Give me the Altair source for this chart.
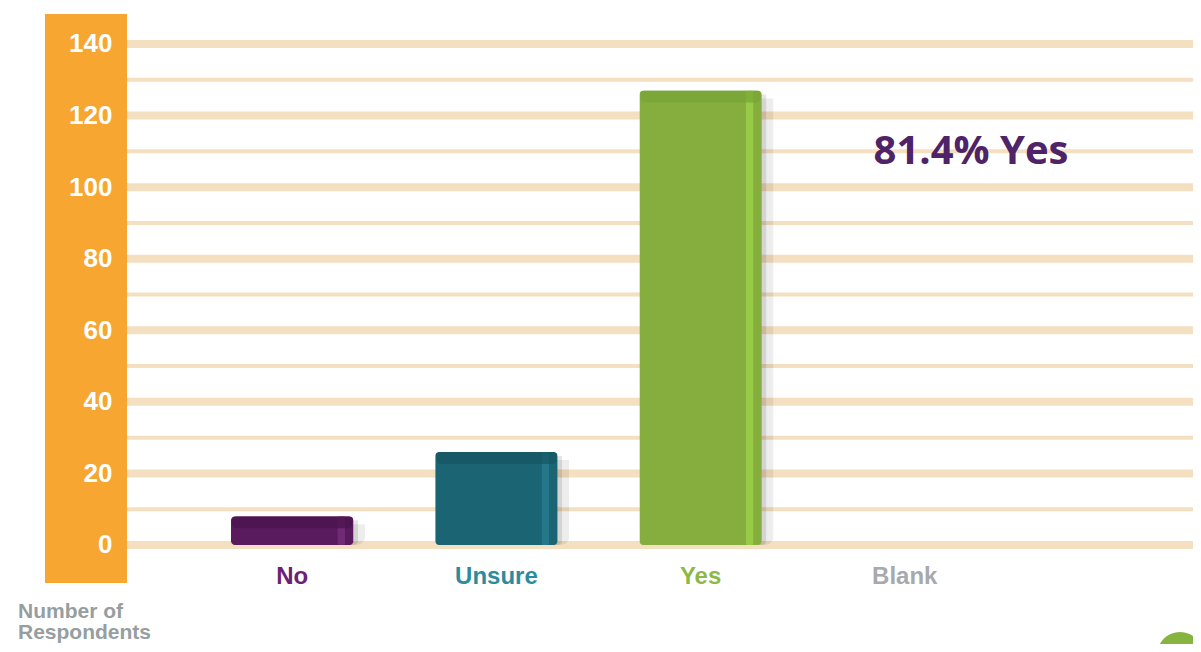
import altair as alt
import pandas as pd

# ---- data ----
categories = ["No", "Unsure", "Yes", "Blank"]
counts = [8, 26, 127, 0]
bar_colors = ["#5A1B5E", "#1B6474", "#86AE3F", "#A7A9AC"]
side_colors = ["#6F2B74", "#24788A", "#97CB45", "#A7A9AC"]
top_colors = ["#47134C", "#165461", "#76A236", "#A7A9AC"]
label_colors = ["#6B2272", "#2E8B9E", "#8DB846", "#A7A9AC"]
major_ticks = [0, 20, 40, 60, 80, 100, 120, 140]
minor_ticks = [10, 30, 50, 70, 90, 110, 130]
annotation = ["81.4% Yes"]
axis_title = ["Number of\nRespondents"]

df = pd.DataFrame({"category": categories, "count": counts,
                   "color": bar_colors, "side": side_colors,
                   "top": top_colors, "label_color": label_colors})
bars_df = df[df["count"] > 0]
major_df = pd.DataFrame({"v": major_ticks})
minor_df = pd.DataFrame({"v": minor_ticks})
ann_df = pd.DataFrame({"t": annotation})
title_df = pd.DataFrame({"t": axis_title})

W, H = 1148, 569
yscale = alt.Scale(domain=[-10.62, 148.38], nice=False, zero=False)
xscale = alt.Scale(domain=categories, range=[186, 921], paddingInner=0.4, paddingOuter=0)
GRID = "#F4DFC0"

y_axis = alt.Axis(values=major_ticks, title=None, domain=False, ticks=False, grid=False,
                  labelColor="white", labelFontSize=26, labelFontWeight="bold",
                  labelFont="Liberation Sans", labelAlign="right", labelBaseline="middle",
                  offset=-69, labelPadding=2, zindex=2)

x_enc = alt.X("category:N", scale=xscale, axis=None, sort=categories)

def yq(field):
    return alt.Y(field, scale=yscale, axis=y_axis)

major = alt.Chart(major_df).mark_rule(color=GRID, strokeWidth=8).encode(
    y=yq("v:Q"), x=alt.value(82), x2=alt.value(W))
minor = alt.Chart(minor_df).mark_rule(color=GRID, strokeWidth=4).encode(
    y=yq("v:Q"), x=alt.value(82), x2=alt.value(W))

band = alt.Chart(ann_df).mark_rect(color="#F7A631").encode(
    x=alt.value(0), x2=alt.value(82), y=alt.value(0), y2=alt.value(H))

shadow1 = alt.Chart(bars_df).mark_bar(color="#000000", opacity=0.07, cornerRadius=9,
                                      xOffset=7, yOffset=8, size=132).encode(
    x=x_enc, y=yq("count:Q"))
shadow2 = alt.Chart(bars_df).mark_bar(color="#000000", opacity=0.10, cornerRadius=5,
                                      xOffset=4, yOffset=4, size=124).encode(
    x=x_enc, y=yq("count:Q"))

bars = alt.Chart(bars_df).mark_bar(cornerRadius=4).encode(
    x=x_enc, y=yq("count:Q"), color=alt.Color("color:N", scale=None))
side = alt.Chart(bars_df).mark_bar(size=8, xOffset=49, cornerRadius=2).encode(
    x=x_enc, y=yq("count:Q"), color=alt.Color("side:N", scale=None))
top = alt.Chart(bars_df).mark_tick(thickness=12, size=120, yOffset=6, cornerRadius=4).encode(
    x=x_enc, y=yq("count:Q"), color=alt.Color("top:N", scale=None))

labels = alt.Chart(df).mark_text(fontSize=24, fontWeight="bold", font="Liberation Sans",
                                 baseline="middle", align="center").encode(
    x=x_enc, y=alt.value(563), text="category:N",
    color=alt.Color("label_color:N", scale=None))

ann = alt.Chart(ann_df).mark_text(fontSize=40, fontWeight="bold", font="Open Sans",
                                  color="#4F2367", align="center", baseline="middle").encode(
    x=alt.value(926), y=alt.value(138), text="t:N")

title = alt.Chart(title_df).mark_text(fontSize=21, fontWeight="bold", font="Liberation Sans",
                                      color="#969EA1", align="left", baseline="alphabetic",
                                      lineBreak="\n", lineHeight=21).encode(
    x=alt.value(-27), y=alt.value(604), text="t:N")

blob = alt.Chart(ann_df).mark_circle(color="#86B43F", opacity=1, size=2124).encode(
    x=alt.value(1135), y=alt.value(641))

chart = alt.layer(major, minor, band, shadow1, shadow2, bars, side, top, labels, ann,
                  title, blob).properties(
    width=W, height=H,
    padding={"left": 37, "top": 6, "right": 0, "bottom": 61},
    autosize=alt.AutoSizeParams(type="none"),
    background="white",
).configure_view(stroke=None)

chart.save("out.html", embed_options={"renderer": "svg", "actions": False})
